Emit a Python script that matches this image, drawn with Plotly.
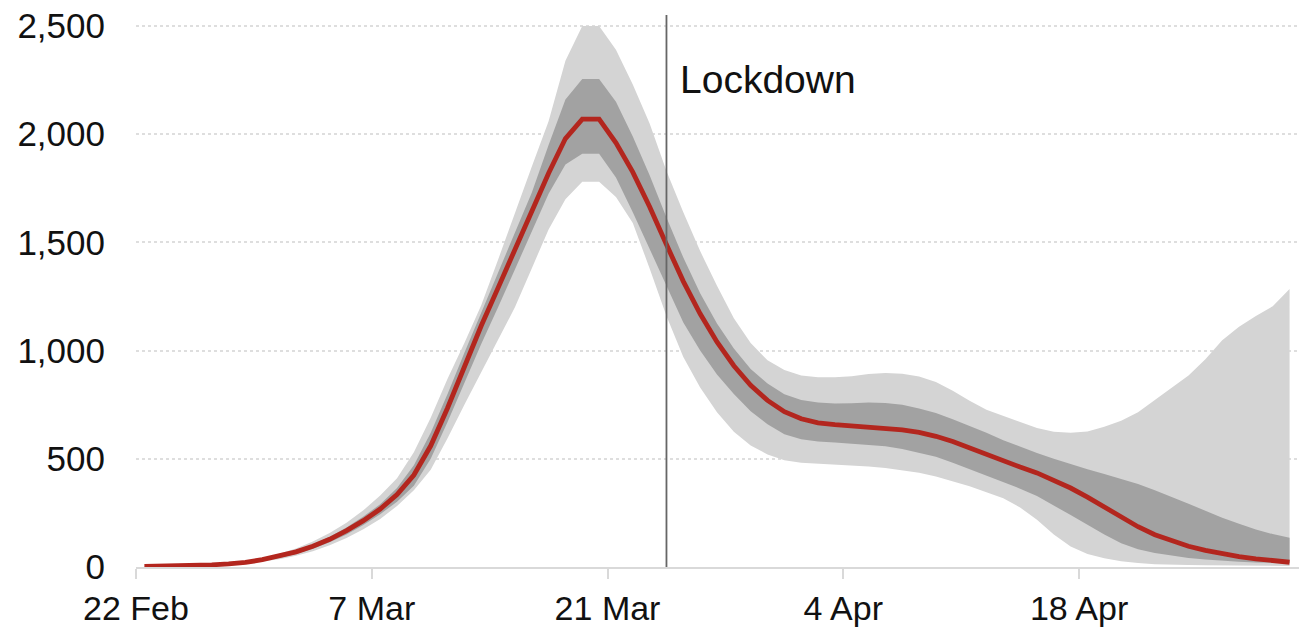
import pandas as pd
import plotly.graph_objects as go

# Daily estimates from 22 Feb 2020 (one value per day)
start = pd.Timestamp("2020-02-22")

central = [3, 4, 5, 7, 10, 14, 21, 34, 50, 70, 96, 128, 168, 214, 268, 335,
           425, 560, 735, 930, 1115, 1290, 1465, 1640, 1820, 1980, 2070, 2070,
           1960, 1825, 1665, 1490, 1320, 1170, 1040, 930, 840, 770, 718, 685,
           666, 658, 652, 648, 642, 634, 622, 604, 580, 550, 518, 487, 462,
           435, 403, 365, 323, 277, 230, 186, 149, 120, 96, 77, 61, 48, 38, 29, 22]

inner_upper = [3, 4, 6, 8, 11, 16, 24, 37, 55, 77, 105, 140, 183, 233, 290, 365,
               470, 620, 800, 990, 1175, 1360, 1540, 1730, 1950, 2160, 2255, 2255,
               2150, 1990, 1810, 1615, 1430, 1265, 1125, 1010, 915, 848, 798, 772,
               760, 756, 757, 760, 758, 750, 733, 712, 683, 652, 620, 586, 555,
               527, 500, 475, 452, 430, 408, 384, 355, 325, 292, 260, 228, 200, 173, 152, 135]

inner_lower = [2, 3, 4, 6, 9, 12, 18, 29, 42, 60, 84, 114, 150, 194, 244, 302,
               375, 500, 670, 850, 1030, 1200, 1375, 1550, 1725, 1860, 1910, 1910,
               1800, 1640, 1470, 1294, 1130, 1000, 890, 800, 720, 660, 613, 590,
               580, 575, 570, 565, 558, 545, 528, 510, 482, 452, 420, 392, 362,
               328, 285, 240, 195, 150, 110, 82, 65, 54, 42, 35, 28, 24, 21, 19, 18]

outer_upper = [4, 5, 7, 9, 13, 19, 28, 42, 61, 86, 118, 157, 205, 262, 330, 410,
               530, 690, 870, 1035, 1210, 1420, 1640, 1850, 2060, 2340, 2500, 2500,
               2390, 2230, 2050, 1830, 1640, 1460, 1300, 1150, 1035, 955, 910, 885,
               877, 877, 882, 892, 897, 893, 880, 855, 815, 768, 727, 698, 668,
               642, 625, 620, 626, 648, 676, 715, 772, 830, 885, 960, 1048, 1110, 1160, 1205, 1285]

outer_lower = [2, 3, 4, 5, 7, 10, 15, 24, 36, 52, 73, 100, 134, 174, 222, 282,
               355, 450, 595, 750, 900, 1045, 1200, 1380, 1560, 1700, 1780, 1780,
               1710, 1590, 1380, 1160, 970, 830, 715, 625, 562, 520, 493, 482,
               478, 474, 470, 465, 458, 448, 435, 418, 397, 373, 345, 318, 275,
               218, 150, 95, 60, 40, 27, 18, 13, 10, 9, 8, 8, 7, 6, 5, 5]

dates = [start + pd.Timedelta(days=i, hours=12) for i in range(len(central))]

tick_dates = ["2020-02-22", "2020-03-07", "2020-03-21", "2020-04-04", "2020-04-18"]
tick_text = ["22 Feb", "7 Mar", "21 Mar", "4 Apr", "18 Apr"]
y_ticks = [0, 500, 1000, 1500, 2000, 2500]
y_text = ["0", "500", "1,000", "1,500", "2,000", "2,500"]

lockdown = pd.Timestamp("2020-03-24 12:00")

FONT = "Liberation Sans, Arial, Helvetica, sans-serif"
LIGHT = "#d4d4d4"
DARK = "#a2a2a2"
RED = "#b3261e"

fig = go.Figure()

# Outer interval
fig.add_trace(go.Scatter(x=dates, y=outer_lower, mode="lines",
                         line=dict(width=0, color=LIGHT), hoverinfo="skip",
                         showlegend=False))
fig.add_trace(go.Scatter(x=dates, y=outer_upper, mode="lines", fill="tonexty",
                         fillcolor=LIGHT, line=dict(width=0, color=LIGHT),
                         hoverinfo="skip", showlegend=False))
# Inner interval
fig.add_trace(go.Scatter(x=dates, y=inner_lower, mode="lines",
                         line=dict(width=0, color=DARK), hoverinfo="skip",
                         showlegend=False))
fig.add_trace(go.Scatter(x=dates, y=inner_upper, mode="lines", fill="tonexty",
                         fillcolor=DARK, line=dict(width=0, color=DARK),
                         hoverinfo="skip", showlegend=False))
# Central estimate
fig.add_trace(go.Scatter(x=dates, y=central, mode="lines",
                         line=dict(width=4.8, color=RED), showlegend=False))

# Lockdown marker
fig.add_shape(type="line", xref="x", yref="paper", x0=lockdown, x1=lockdown,
              y0=0, y1=1, line=dict(color="#666666", width=1.8), layer="above")
fig.add_annotation(x=lockdown, y=2255, xref="x", yref="y", text="Lockdown",
                   showarrow=False, xanchor="left", yanchor="middle", xshift=12,
                   font=dict(family=FONT, size=39, color="#111111"))

fig.update_layout(
    width=1299, height=629,
    margin=dict(l=136, r=0, t=15, b=62),
    paper_bgcolor="white", plot_bgcolor="white",
    font=dict(family=FONT, size=34, color="#111111"),
    showlegend=False,
)
fig.update_xaxes(
    type="date",
    range=[start, start + pd.Timedelta(days=69.06)],
    tickvals=tick_dates, ticktext=tick_text,
    showgrid=False, showline=True, linecolor="#d9d9d9", linewidth=2,
    ticks="outside", ticklen=10, tickwidth=2, tickcolor="#d9d9d9",
    tickfont=dict(family=FONT, size=34, color="#111111"),
    zeroline=False,
)
fig.update_yaxes(
    range=[0, 2551],
    tickvals=y_ticks, ticktext=y_text,
    showgrid=True, gridcolor="#dedede", gridwidth=1.5, griddash="dot",
    zeroline=False, showline=False, ticks="",
    ticklabelstandoff=30,
    tickfont=dict(family=FONT, size=35, color="#111111"),
)

fig.write_html("out.html")
